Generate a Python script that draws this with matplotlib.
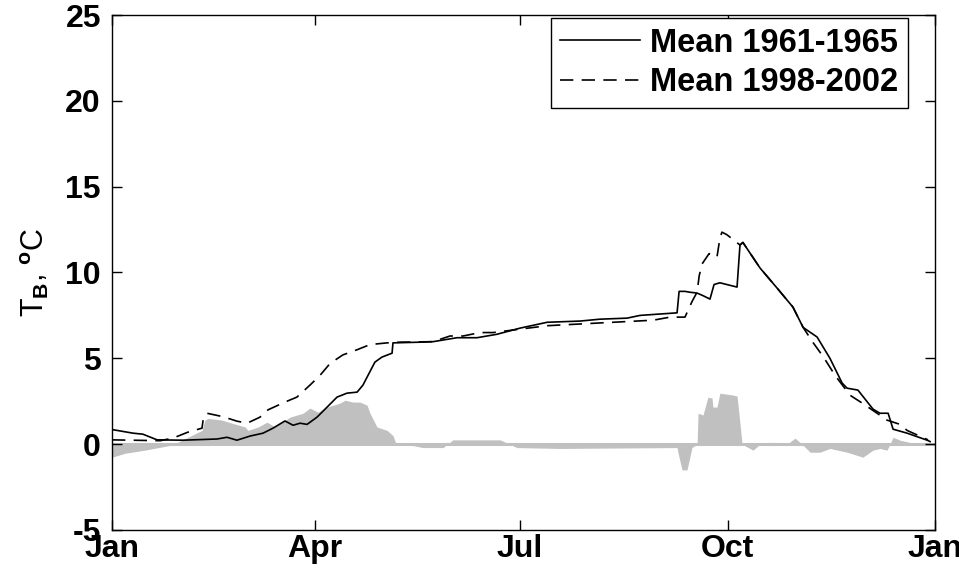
import numpy as np
import matplotlib
matplotlib.use("Agg")
import matplotlib.pyplot as plt

# Day of year (0 = 1 Jan) and mean temperature, 1961-1965
days_early = [0, 9.3, 13.7, 20, 31.5, 46.6, 51, 55.4, 61.2, 67, 71.4, 76.7, 80.3, 83.4,
              86.5, 90.9, 95.4, 99.8, 104.2, 108.7, 111.3, 113.5, 116.6, 119.7, 124.2,
              124.6, 136.6, 142.4, 153, 161.9, 170.7, 181, 193, 207.6, 216.4, 228.4,
              234.2, 250.6, 251.5, 254.1, 256.3, 259.5, 262.1, 265.2, 267, 269.6, 277.2,
              278.5, 279.8, 287.4, 294.9, 302, 306.5, 312.7, 318.4, 323.8, 326, 330.8,
              337.5, 340.6, 344.2, 346.4, 352.6, 361.5, 362.8]
temp_early = [0.85, 0.64, 0.58, 0.25, 0.23, 0.3, 0.4, 0.23, 0.47, 0.64, 0.93, 1.35, 1.1, 1.22,
              1.15, 1.57, 2.16, 2.74, 2.97, 3.03, 3.44, 4.0, 4.78, 5.07, 5.3,
              5.9, 5.94, 5.97, 6.2, 6.2, 6.4, 6.76, 7.1, 7.17, 7.28, 7.34,
              7.5, 7.65, 8.9, 8.9, 8.85, 8.8, 8.65, 8.45, 9.3, 9.4, 9.15,
              11.6, 11.75, 10.26, 9.1, 7.98, 6.8, 6.24, 5.0, 3.56, 3.26, 3.15,
              2.04, 1.8, 1.8, 0.87, 0.64, 0.23, 0.15]

# Mean temperature, 1998-2002
days_late = [0, 21.3, 27, 33.7, 39.9, 40.4, 42.1, 49.2, 55.4, 59.9, 65.6, 69.2, 76.7, 82,
             87.8, 92.2, 96.7, 102.4, 108.7, 114.4, 122, 127.7, 142.4, 149.9, 155.7,
             163.2, 169, 181, 193, 207.6, 222.2, 240, 247.5, 254.1, 257.2, 259.5, 260.4,
             261.7, 264.8, 268.3, 269.6, 270.5, 272.7, 278.5, 279.8, 287.4, 294.9, 302,
             306.5, 311, 315.4, 320.7, 327.3, 332.6, 339.3, 343.7, 349.5, 352.6, 361.9]
temp_late = [0.25, 0.2, 0.35, 0.7, 0.93, 1.4, 1.8, 1.6, 1.34, 1.22, 1.57, 2.0, 2.45, 2.74,
             3.44, 4.0, 4.7, 5.2, 5.5, 5.8, 5.9, 5.94, 5.97, 6.3, 6.3,
             6.5, 6.5, 6.7, 6.9, 7.0, 7.1, 7.22, 7.4, 7.4, 8.3, 8.86, 9.8,
             10.5, 11.1, 10.9, 12.0, 12.35, 12.2, 11.6, 11.75, 10.26, 9.1, 7.98,
             6.8, 5.9, 5.1, 4.0, 2.85, 2.4, 1.8, 1.4, 1.15, 0.8, 0.25]

# Difference between the two periods (1998-2002 minus 1961-1965)
days_diff = [0, 5.8, 14.6, 26.6, 33.7, 39.9, 41.2, 42.6, 48.8, 53.2, 59, 60.3, 64.8, 68.7,
             72.3, 78.9, 84.7, 87.8, 91.4, 95.4, 101.1, 103.3, 106.9, 110, 113.1, 114.4,
             117.5, 122, 124.6, 126, 132.2, 137.9, 146.8, 151.2, 172.1, 179.6, 198.7,
             250.6, 251, 252.8, 255, 257.2, 259.5, 259.9, 262.1, 264.3, 266.1, 266.5,
             268.3, 269.6, 275.4, 277.2, 278.5, 279.4, 284.3, 287.4, 290.5, 294.9, 299.4,
             302.9, 306, 309.6, 314, 318.4, 326, 333, 337.5, 340.6, 343.7, 345, 346.4,
             349.5, 355.2, 361.5, 365]
temp_diff = [-0.76, -0.53, -0.35, -0.05, 0.4, 0.8, 1.4, 1.5, 1.4, 1.22, 1.0, 0.8, 1.0, 1.28,
             1.0, 1.57, 1.8, 2.1, 1.86, 2.16, 2.39, 2.56, 2.45, 2.45, 2.27, 1.8,
             1.0, 0.8, 0.5, 0.0, -0.05, -0.2, -0.2, 0.25, 0.25, -0.2, -0.25,
             -0.2, -0.5, -1.5, -1.5, -0.2, 0.0, 1.8, 1.7, 2.74, 2.68, 2.16,
             2.16, 2.97, 2.86, 2.8, 1.2, 0.0, -0.35, 0.0, 0.1, 0.1, 0.0,
             0.35, 0.0, -0.47, -0.47, -0.25, -0.47, -0.76, -0.35, -0.25, -0.35, 0.0, 0.4,
             0.23, 0.06, 0.0, 0.0]

month_ticks = [0, 90, 181, 273, 365]
month_labels = ["Jan", "Apr", "Jul", "Oct", "Jan"]

plt.rcParams["font.family"] = ["Liberation Sans", "DejaVu Sans"]
plt.rcParams["font.weight"] = "bold"
plt.rcParams["axes.unicode_minus"] = False
plt.rcParams["mathtext.fontset"] = "custom"
plt.rcParams["mathtext.rm"] = "Liberation Sans:bold"
plt.rcParams["mathtext.it"] = "Liberation Sans:bold"
plt.rcParams["mathtext.bf"] = "Liberation Sans:bold"

fig = plt.figure(figsize=(9.59, 5.77), dpi=100)
ax = fig.add_axes([0.1168, 0.0815, 0.8582, 0.8925])

# shaded difference band behind the curves
ax.fill_between(days_diff, temp_diff, 0, color="#c0c0c0", linewidth=0)
ax.axhline(0, color="#c0c0c0", linewidth=2.2, zorder=1)

ax.plot(days_early, temp_early, color="black", linewidth=1.2, label="Mean 1961-1965")
line_late, = ax.plot(days_late, temp_late, color="black", linewidth=1.2,
                     label="Mean 1998-2002")
line_late.set_dashes([8, 5])

ax.set_xlim(0, 365)
ax.set_ylim(-5, 25)
ax.set_xticks(month_ticks)
ax.set_xticklabels(month_labels)
ax.set_yticks(np.arange(-5, 26, 5))
ax.tick_params(direction="in", top=True, right=True, length=7, width=1,
               labelsize=23)
ax.tick_params(axis="y", pad=8)
ax.tick_params(axis="x", pad=3)
for sp in ax.spines.values():
    sp.set_linewidth(1)
ax.set_ylabel(r"T$_\mathrm{B}$, $^\mathrm{o}$C", fontsize=22, labelpad=10)

leg = ax.legend(loc="upper right", bbox_to_anchor=(0.9468, 0.9688),
                bbox_transform=fig.transFigure, fontsize=23.5, handlelength=2.45,
                handletextpad=0.3, borderpad=0.3, labelspacing=0.25, fancybox=False,
                framealpha=1, borderaxespad=0)
leg.get_frame().set_edgecolor("black")
leg.get_frame().set_linewidth(1)

fig.savefig("out.png", dpi=100)
